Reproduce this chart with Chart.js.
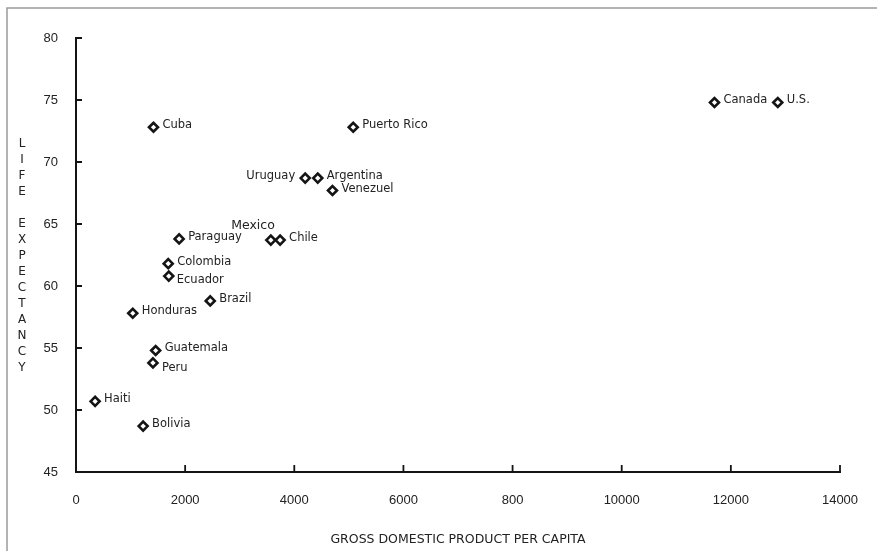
<!DOCTYPE html>
<html>
<head>
<meta charset="utf-8">
<script src="https://cdn.jsdelivr.net/npm/chart.js@4/dist/chart.umd.min.js"></script>
<style>
  html, body { margin: 0; padding: 0; background: #fff; }
  #wrap { width: 877px; height: 551px; position: relative; }
</style>
</head>
<body>
<div id="wrap"><canvas id="chart" width="877" height="551"></canvas></div>
<script>
// dados
const countries = ['Cuba', 'Puerto Rico', 'Canada', 'U.S.', 'Uruguay', 'Argentina', 'Venezuel',
  'Mexico', 'Chile', 'Paraguay', 'Colombia', 'Ecuador', 'Brazil', 'Honduras',
  'Guatemala', 'Peru', 'Haiti', 'Bolivia'];
const gdpPerCapita = [1420, 5080, 11700, 12860, 4200, 4430, 4700,
  3570, 3740, 1890, 1690, 1700, 2460, 1040,
  1460, 1410, 350, 1230];
const lifeExpectancy = [72.8, 72.8, 74.8, 74.8, 68.7, 68.7, 67.7,
  63.7, 63.7, 63.8, 61.8, 60.8, 58.8, 57.8,
  54.8, 53.8, 50.7, 48.7];
const xTickLabels = ['0', '2000', '4000', '6000', '800', '10000', '12000', '14000'];
const yTickValues = [45, 50, 55, 60, 65, 70, 75, 80];

// onde vai cada rotulo (padrao: a direita do ponto)
const labelPlacement = {
  'Uruguay': { dx: -10, dy: -2, align: 'right' },
  'Mexico': { dx: 4, dy: -14, align: 'right', size: 12.5 },
  'Ecuador': { dx: 8, dy: 4 },
  'Peru': { dx: 9, dy: 5 }
};

const INK = '#141414';
const TEXT = '#222';

const pointLabels = {
  id: 'pointLabels',
  afterDatasetsDraw(chart) {
    const ctx = chart.ctx;
    const meta = chart.getDatasetMeta(0);
    ctx.save();
    ctx.fillStyle = TEXT;
    ctx.textBaseline = 'middle';
    meta.data.forEach((pt, i) => {
      const name = countries[i];
      const p = labelPlacement[name] || {};
      ctx.font = (p.size || 11.5) + 'px "DejaVu Sans"';
      ctx.textAlign = p.align || 'left';
      ctx.fillText(name, pt.x + (p.dx !== undefined ? p.dx : 9), pt.y + (p.dy !== undefined ? p.dy : -2));
    });
    ctx.restore();
  }
};

// marcas de escala para dentro + titulo vertical + moldura
const decorations = {
  id: 'decorations',
  beforeDraw(chart) {
    const ctx = chart.ctx;
    ctx.save();
    ctx.fillStyle = '#fff';
    ctx.fillRect(0, 0, chart.width, chart.height);
    ctx.strokeStyle = '#9a9a9a';
    ctx.lineWidth = 1.5;
    ctx.beginPath();
    ctx.moveTo(7, chart.height);
    ctx.lineTo(7, 8);
    ctx.lineTo(chart.width, 8);
    ctx.stroke();
    ctx.restore();
  },
  afterDraw(chart) {
    const ctx = chart.ctx;
    const xs = chart.scales.x, ys = chart.scales.y;
    const area = chart.chartArea;
    ctx.save();
    ctx.strokeStyle = INK;
    ctx.lineWidth = 1.8;
    ctx.beginPath();
    xs.ticks.forEach(t => {
      if (t.value === 0) return;
      const px = xs.getPixelForValue(t.value);
      ctx.moveTo(px, area.bottom);
      ctx.lineTo(px, area.bottom - 7);
    });
    ys.ticks.forEach(t => {
      if (t.value === 45) return;
      const py = ys.getPixelForValue(t.value);
      ctx.moveTo(area.left, py);
      ctx.lineTo(area.left + 6, py);
    });
    ctx.stroke();

    // LIFE EXPECTANCY empilhado
    const title = 'LIFE EXPECTANCY';
    ctx.fillStyle = TEXT;
    ctx.font = '12px "DejaVu Sans"';
    ctx.textAlign = 'center';
    ctx.textBaseline = 'middle';
    for (let i = 0; i < title.length; i++) {
      ctx.fillText(title[i], 22, 144 + i * 16);
    }
    ctx.restore();
  }
};

new Chart(document.getElementById('chart'), {
  type: 'scatter',
  data: {
    datasets: [{
      data: gdpPerCapita.map((g, i) => ({ x: g, y: lifeExpectancy[i] })),
      pointStyle: 'rectRot',
      pointRadius: 4.5,
      pointHoverRadius: 4.5,
      pointBorderWidth: 2.6,
      pointBorderColor: INK,
      pointBackgroundColor: '#fff'
    }]
  },
  options: {
    responsive: false,
    animation: false,
    layout: { padding: { left: 0, top: 38, right: 37, bottom: 0 } },
    plugins: {
      legend: { display: false },
      tooltip: { enabled: false }
    },
    scales: {
      x: {
        type: 'linear',
        min: 0,
        max: 14000,
        afterBuildTicks: (scale) => {
          scale.ticks = xTickLabels.map((l, i) => ({ value: i * 2000 }));
        },
        afterFit: (scale) => { scale.height = 79; },
        grid: { display: false },
        border: { display: true, color: INK, width: 2 },
        ticks: {
          color: TEXT,
          font: { family: '"Liberation Sans"', size: 13 },
          padding: 13,
          maxRotation: 0,
          autoSkip: false,
          callback: (v, i) => xTickLabels[i]
        },
        title: {
          display: true,
          text: 'GROSS DOMESTIC PRODUCT PER CAPITA',
          color: TEXT,
          font: { family: '"DejaVu Sans"', size: 12.5 },
          padding: { top: 4, bottom: 4 }
        }
      },
      y: {
        type: 'linear',
        min: 45,
        max: 80,
        afterBuildTicks: (scale) => {
          scale.ticks = yTickValues.map(v => ({ value: v }));
        },
        afterFit: (scale) => { scale.width = 76; },
        grid: { display: false },
        border: { display: true, color: INK, width: 2 },
        ticks: {
          color: TEXT,
          font: { family: '"Liberation Sans"', size: 13 },
          padding: 10
        }
      }
    }
  },
  plugins: [decorations, pointLabels]
});
</script>
</body>
</html>
